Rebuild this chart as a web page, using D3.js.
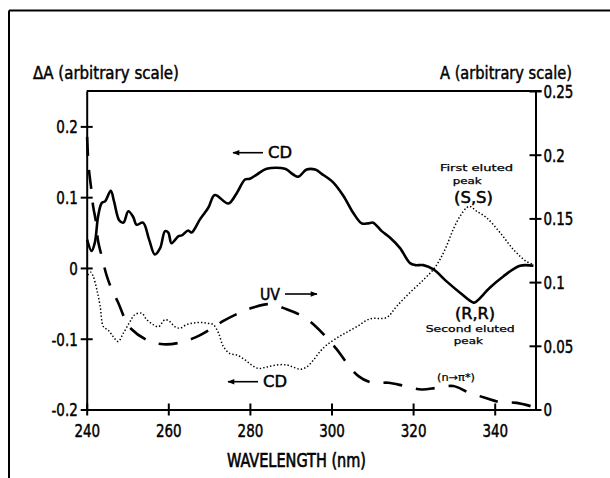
<!DOCTYPE html>
<html><head><meta charset="utf-8">
<script src="https://cdn.jsdelivr.net/npm/d3@7"></script>
<style>
html,body{margin:0;padding:0;background:#fff;}
svg{display:block;}
text{font-family:"DejaVu Sans Condensed","DejaVu Sans",sans-serif;fill:#000;stroke:#000;stroke-width:0.45px;}
</style></head>
<body>
<svg id="chart" width="610" height="478"></svg>
<script>
// ---- data ----
const xTicks = [240, 260, 280, 300, 320, 340];
const leftTicks = [-0.2, -0.1, 0, 0.1, 0.2];
const leftTickLabels = ["-0.2", "-0.1", "0", "0.1", "0.2"];
const rightTicks = [0, 0.05, 0.1, 0.15, 0.2, 0.25];
const rightTickLabels = ["0", "0.05", "0.1", "0.15", "0.2", "0.25"];

// CD of second eluted peak (R,R) – solid, left axis
const cdSecond = [[240.1,0.040],[241.2,0.024],[242.0,0.036],[242.8,0.073],[243.7,0.092],[244.5,0.094],[245.9,0.109],[246.7,0.094],[248.0,0.067],[249.0,0.064],[250.2,0.080],[251.4,0.072],[252.2,0.061],[253.8,0.064],[255.3,0.040],[256.7,0.019],[258.0,0.028],[259.2,0.052],[260.0,0.050],[260.8,0.035],[262.5,0.045],[263.3,0.046],[264.9,0.053],[265.7,0.050],[267.8,0.069],[269.8,0.085],[271.4,0.103],[274.7,0.091],[276.8,0.106],[278.8,0.125],[280.0,0.126],[281.7,0.132],[284.1,0.140],[288.6,0.140],[290.6,0.132],[291.9,0.129],[293.9,0.139],[296.0,0.139],[297.6,0.133],[300.4,0.121],[302.9,0.102],[305.3,0.078],[307.4,0.063],[309.0,0.063],[310.2,0.064],[312.3,0.052],[314.3,0.043],[316.8,0.028],[319.2,0.007],[320.5,0.004],[322.5,0.004],[325.0,-0.002],[328.2,-0.019],[331.5,-0.035],[334.8,-0.049],[335.6,-0.047],[338.8,-0.028],[342.1,-0.012],[346.2,0.003],[349.5,0.003]];

// CD of first eluted peak (S,S) – dotted, left axis
const cdFirst = [[240.3,-0.010],[241.0,-0.006],[241.6,-0.012],[242.5,-0.031],[243.3,-0.054],[244.1,-0.083],[245.3,-0.088],[246.5,-0.097],[247.7,-0.104],[249.0,-0.092],[250.6,-0.076],[251.8,-0.066],[253.5,-0.064],[254.7,-0.073],[256.3,-0.080],[257.6,-0.083],[259.2,-0.073],[260.4,-0.076],[261.6,-0.083],[262.9,-0.085],[264.5,-0.080],[266.1,-0.078],[267.8,-0.077],[269.4,-0.078],[271.0,-0.080],[272.3,-0.092],[273.5,-0.111],[275.1,-0.121],[276.8,-0.123],[278.8,-0.130],[280.4,-0.137],[282.1,-0.142],[284.1,-0.140],[286.6,-0.137],[289.0,-0.137],[290.6,-0.140],[292.3,-0.143],[293.9,-0.140],[295.6,-0.130],[297.2,-0.118],[298.8,-0.109],[301.3,-0.099],[303.7,-0.091],[306.2,-0.083],[309.4,-0.072],[313.5,-0.070],[316.0,-0.054],[319.2,-0.035],[322.5,-0.017],[325.0,-0.002],[326.6,0.012],[328.2,0.031],[329.8,0.054],[331.5,0.073],[333.1,0.085],[333.9,0.087],[335.6,0.080],[338.0,0.071],[341.3,0.050],[344.6,0.026],[347.8,0.009],[349.5,0.005]];

// UV absorption – dashed, right axis
const uv = [[240.1,0.214],[240.5,0.190],[241.2,0.171],[241.6,0.159],[242.3,0.147],[242.8,0.132],[243.7,0.120],[244.9,0.105],[246.1,0.0945],[247.7,0.084],[249.4,0.071],[251.0,0.063],[255.1,0.054],[258.8,0.0512],[262.9,0.0525],[266.5,0.0564],[271.0,0.0643],[273.5,0.0695],[277.6,0.0761],[280.8,0.080],[284.9,0.0827],[289.0,0.0787],[292.7,0.0735],[296.0,0.0656],[298.8,0.0564],[301.3,0.0472],[303.7,0.0367],[306.6,0.0262],[309.9,0.021],[313.9,0.021],[318.0,0.0184],[322.1,0.0157],[325.8,0.017],[329.8,0.0184],[333.5,0.0136],[337.6,0.0092],[341.3,0.0058],[345.4,0.0052],[349.5,0.002]];

// ---- drawing ----
const svg = d3.select("#chart");
const L = 86.7, R = 535.5, T = 91, B = 409.5;
const x = d3.scaleLinear().domain([240, 350]).range([L, R]);
const yL = d3.scaleLinear().domain([-0.2, 0.25]).range([B, T]);
const yR = d3.scaleLinear().domain([0, 0.25]).range([B, T]);

function squeeze(sel, target) {
  sel.each(function(){
    const w = this.getComputedTextLength();
    const t = typeof target === "function" ? target(w) : target;
    this.setAttribute("textLength", t);
    this.setAttribute("lengthAdjust", "spacingAndGlyphs");
  });
}

// outer frame (scan border)
svg.append("line").attr("x1",9).attr("y1",10.5).attr("x2",610).attr("y2",10.5).attr("stroke","#000").attr("stroke-width",2);
svg.append("line").attr("x1",9).attr("y1",10.5).attr("x2",9).attr("y2",478).attr("stroke","#000").attr("stroke-width",2);

// top frame line
svg.append("line").attr("x1",L).attr("y1",T).attr("x2",R+6).attr("y2",T).attr("stroke","#000").attr("stroke-width",2);

// axes
const gx = svg.append("g").attr("transform",`translate(0,${B})`)
  .call(d3.axisBottom(x).tickValues(xTicks).tickFormat(d3.format("d")).tickSizeOuter(0));
gx.selectAll(".tick line").attr("y1",-6).attr("y2",6);
gx.selectAll(".tick text").attr("y",27).attr("dy",0);

const gl = svg.append("g").attr("transform",`translate(${L},0)`)
  .call(d3.axisLeft(yL).tickValues(leftTicks).tickFormat((d,i)=>leftTickLabels[i]).tickSizeOuter(0));
gl.selectAll(".tick line").attr("x1",-6).attr("x2",6);
gl.selectAll(".tick text").attr("x",-9).attr("dy","0.36em");

const gr = svg.append("g").attr("transform",`translate(${R},0)`)
  .call(d3.axisRight(yR).tickValues(rightTicks).tickFormat((d,i)=>rightTickLabels[i]).tickSizeOuter(0));
gr.selectAll(".tick line").attr("x1",-6).attr("x2",6);
gr.selectAll(".tick text").attr("x",8).attr("dy","0.36em");

[gx, gl, gr].forEach(g=>{
  g.select(".domain").attr("stroke","#000").attr("stroke-width",2);
  g.selectAll(".tick line").attr("stroke","#000").attr("stroke-width",2);
  g.selectAll(".tick text").style("font-family",'"DejaVu Sans Condensed","DejaVu Sans",sans-serif')
    .style("font-size","18px").attr("fill","#000").attr("stroke","#000").attr("stroke-width",0.5);
  squeeze(g.selectAll(".tick text"), w=>w*0.83);
});

// curves
const lineL = d3.line().x(d=>x(d[0])).y(d=>yL(d[1])).curve(d3.curveCatmullRom.alpha(0.5));
const lineR = d3.line().x(d=>x(d[0])).y(d=>yR(d[1])).curve(d3.curveCatmullRom.alpha(0.5));

svg.append("path").datum(cdSecond).attr("d",lineL).attr("fill","none")
  .attr("stroke","#000").attr("stroke-width",2.6).attr("stroke-linejoin","round");
svg.append("path").datum(cdFirst).attr("d",lineL).attr("fill","none")
  .attr("stroke","#000").attr("stroke-width",1.5).attr("stroke-dasharray","1.4,2.1");
svg.append("path").datum(uv).attr("d",lineR).attr("fill","none")
  .attr("stroke","#000").attr("stroke-width",2.6).attr("stroke-dasharray","19,14");

// arrows
const defs = svg.append("defs");
defs.append("marker").attr("id","ah").attr("viewBox","0 0 10 10").attr("refX",9).attr("refY",5)
  .attr("markerWidth",9).attr("markerHeight",7).attr("markerUnits","userSpaceOnUse").attr("orient","auto")
  .append("path").attr("d","M0,1 L10,5 L0,9 Z").attr("fill","#000").attr("stroke","none");
function arrow(x1,y1,x2,y2){
  svg.append("line").attr("x1",x1).attr("y1",y1).attr("x2",x2).attr("y2",y2)
    .attr("stroke","#000").attr("stroke-width",1.6).attr("marker-end","url(#ah)");
}
arrow(263,152.7,233,152.7);
arrow(285,294,317,294);
arrow(258,381.7,228,381.7);

function label(txt,x0,y0,size,width,sw){
  const t = svg.append("text").attr("x",x0).attr("y",y0)
    .style("font-size",size+"px").style("stroke-width",(sw==null?0.45:sw)+"px").text(txt);
  if (width) squeeze(t, width);
  return t;
}
label("ΔA (arbitrary scale)",33,79,18,146);
label("A (arbitrary scale)",440,79,18,132);
label("WAVELENGTH (nm)",227,467,19,139,0.6);
label("CD",268,158,15,24);
label("UV",260,299.5,15,20);
label("CD",263,387,15,24);
label("First eluted",440,171,9.5,73,0.25);
label("peak",452.7,184,9.5,29,0.25);
label("(S,S)",454,202.5,15,39);
label("(R,R)",455,318.5,15,40);
label("Second eluted",425.7,332,9.5,89,0.25);
label("peak",453.8,343.5,9.5,29,0.25);
label("(n→π*)",437,381,10,38,0.2);
</script>
</body></html>
